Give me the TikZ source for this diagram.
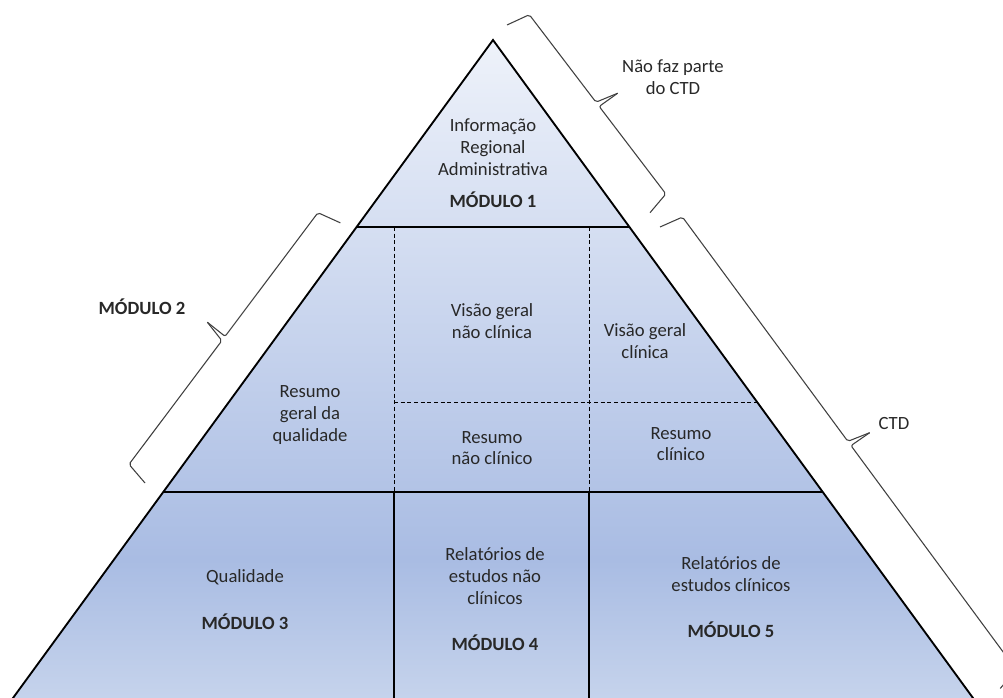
\documentclass[tikz,border=0pt]{standalone}
\usepackage{fontspec}
\setmainfont{Carlito}
\usepackage{xcolor}
\usepackage{tikz}

\definecolor{pyrtop}{RGB}{238,242,250}
\definecolor{pyrdark}{RGB}{169,188,227}
\definecolor{pyrbot}{RGB}{201,214,237}
\definecolor{txtgray}{RGB}{40,40,40}
\pgfdeclareverticalshading{pyramidshade}{100bp}{color(0bp)=(pyrbot); color(25bp)=(pyrbot); color(36.5bp)=(pyrdark); color(75bp)=(pyrtop); color(100bp)=(pyrtop)}

\tikzset{
  bracket/.style={draw=black!75, line width=0.8pt, rounded corners=1.5pt},
  pics/obrace/.style={code={
    \draw[bracket] (0pt,0pt) -- (4pt,18pt) -- ({#1/2-2pt},18pt) -- ({#1/2+2.5pt},35pt);
    \draw[bracket] ({#1/2+2.5pt},35pt) -- ({#1/2+2pt},18pt) -- ({#1-4pt},18pt) -- (#1,0pt);
  }}
}

\begin{document}
\begin{tikzpicture}[x=0.75pt, y=-0.75pt,
  every node/.style={text=txtgray, font=\fontsize{14}{16.3}\selectfont, align=center, inner sep=0pt},
  modulo/.style={font=\fontsize{14}{16.3}\selectfont\bfseries},
  outline/.style={line width=1.4pt, black},
  dashline/.style={line width=0.7pt, black, dash pattern=on 3pt off 2pt}]
  \clip (0,0) rectangle (1003,698);

  \coordinate (apex) at (493,40);
  \coordinate (l1) at (356.6,227);
  \coordinate (r1) at (629.4,227);
  \coordinate (l2) at (163.3,492);
  \coordinate (r2) at (822.7,492);
  \coordinate (lb) at (0.6,715);
  \coordinate (rb) at (985.4,715);
  \coordinate (dr) at (757.1,402);
  \coordinate (dl) at (394,402);

  \shade[shading=pyramidshade] (apex) -- (rb) -- (lb) -- cycle;

  \draw[dashline] (394,227) -- (394,492);
  \draw[dashline] (589,227) -- (589,492);
  \draw[dashline] (dl) -- (dr);
  \draw[outline] (l1) -- (r1);
  \draw[outline] (l2) -- (r2);
  \draw[outline] (394,492) -- (394,715);
  \draw[outline] (589,492) -- (589,715);
  \draw[outline] (lb) -- (apex) -- (rb);

  \node (info) at (493,147) {Informação\\Regional\\Administrativa};
  \node[modulo] (mod1) at (493,200) {MÓDULO 1};
  \node (visnc) at (492,321) {Visão geral\\não clínica};
  \node (viscl) at (645,341) {Visão geral\\clínica};
  \node (resger) at (310,415) {Resumo\\geral da\\qualidade};
  \node (resnc) at (492,448) {Resumo\\não clínico};
  \node (rescl) at (681,444) {Resumo\\clínico};
  \node (qual) at (245,577) {Qualidade};
  \node[modulo] (mod3) at (245,622) {MÓDULO 3};
  \node (relnc) at (495,576) {Relatórios de\\estudos não\\clínicos};
  \node[modulo] (mod4) at (495,643) {MÓDULO 4};
  \node (relcl) at (731,574) {Relatórios de\\estudos clínicos};
  \node[modulo] (mod5) at (731,630) {MÓDULO 5};

  \node (notctd) at (673,77) {Não faz parte\\do CTD};
  \node (ctd) at (894,424) {CTD};
  \node[modulo] (mod2) at (142,307) {MÓDULO 2};

  \coordinate (b1a) at (507,25);
  \coordinate (b2a) at (660,227);
  \coordinate (b3a) at (145,483);
  \pic[rotate=-52.7] at (b1a) {obrace=177pt};
  \pic[rotate=-53.6] at (b2a) {obrace=430pt};
  \pic[rotate=53.1] at (b3a) {obrace=244pt};
\end{tikzpicture}
\end{document}
